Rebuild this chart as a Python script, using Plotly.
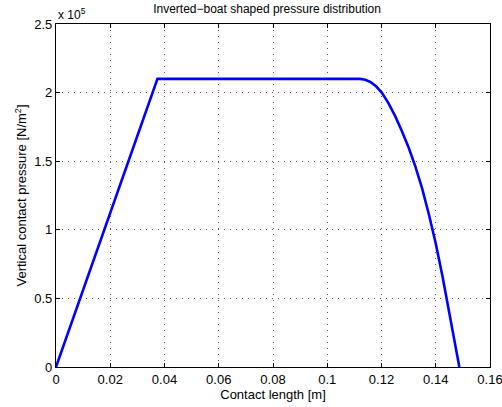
import plotly.graph_objects as go

# Contact length [m] and pressure [N/m^2]
contact_length = [0.0, 0.0374, 0.0800, 0.1121, 0.1140, 0.1160, 0.1180, 0.1201, 0.1225,
                  0.1250, 0.1275, 0.1300, 0.1325, 0.1350, 0.1375, 0.1400, 0.1425,
                  0.1450, 0.1470, 0.1487]
pressure = [0.0, 2.100e5, 2.100e5, 2.100e5, 2.094e5, 2.076e5, 2.046e5, 2.000e5, 1.925e5,
            1.830e5, 1.720e5, 1.600e5, 1.460e5, 1.300e5, 1.110e5, 0.900e5, 0.660e5,
            0.400e5, 0.180e5, 0.0]

x_ticks = [0, 0.02, 0.04, 0.06, 0.08, 0.1, 0.12, 0.14, 0.16]
x_tick_text = ["0", "0.02", "0.04", "0.06", "0.08", "0.1", "0.12", "0.14", "0.16"]
y_ticks = [0, 0.5e5, 1.0e5, 1.5e5, 2.0e5, 2.5e5]
y_tick_text = ["0", "0.5", "1", "1.5", "2", "2.5"]

font = "Liberation Sans, Arial, Helvetica, sans-serif"

fig = go.Figure()
fig.add_trace(go.Scatter(x=contact_length, y=pressure, mode="lines",
                         line=dict(color="#0000ff", width=2.6),
                         showlegend=False))

axis_common = dict(showline=True, linecolor="black", linewidth=1.2, mirror="ticks",
                   ticks="inside", ticklen=4, tickcolor="black", automargin=False,
                   ticklabeloverflow="allow",
                   showgrid=True, gridcolor="#555555", griddash="1px,5px", gridwidth=1,
                   zeroline=False, tickfont=dict(family=font, size=13, color="black"))

fig.update_layout(
    width=502, height=407,
    margin=dict(l=56, r=12, t=24, b=40),
    plot_bgcolor="white", paper_bgcolor="white",
    font=dict(family=font, size=13, color="black"),
    title=dict(text="Inverted\u2212boat shaped pressure distribution", x=0.532, xanchor="center",
               yref="container", y=0.978, yanchor="middle", automargin=False,
               font=dict(family=font, size=12, color="black")),
    xaxis=dict(range=[0, 0.16], tickvals=x_ticks, ticktext=x_tick_text,
               title=dict(text="Contact length [m]", standoff=1,
                          font=dict(family=font, size=13)), **axis_common),
    yaxis=dict(range=[0, 2.5e5], tickvals=y_ticks, ticktext=y_tick_text,
               title=dict(text="Vertical contact pressure [N/m<sup>2</sup>]", standoff=4,
                          font=dict(family=font, size=13)), **axis_common),
)

fig.add_annotation(text="x 10<sup>5</sup>", xref="paper", yref="paper", x=0, y=1,
                   xanchor="left", yanchor="bottom", showarrow=False, yshift=0,
                   font=dict(family=font, size=12, color="black"))

fig.write_html("out.html", config={"displayModeBar": False},
               post_script="document.body.style.margin='0';")
